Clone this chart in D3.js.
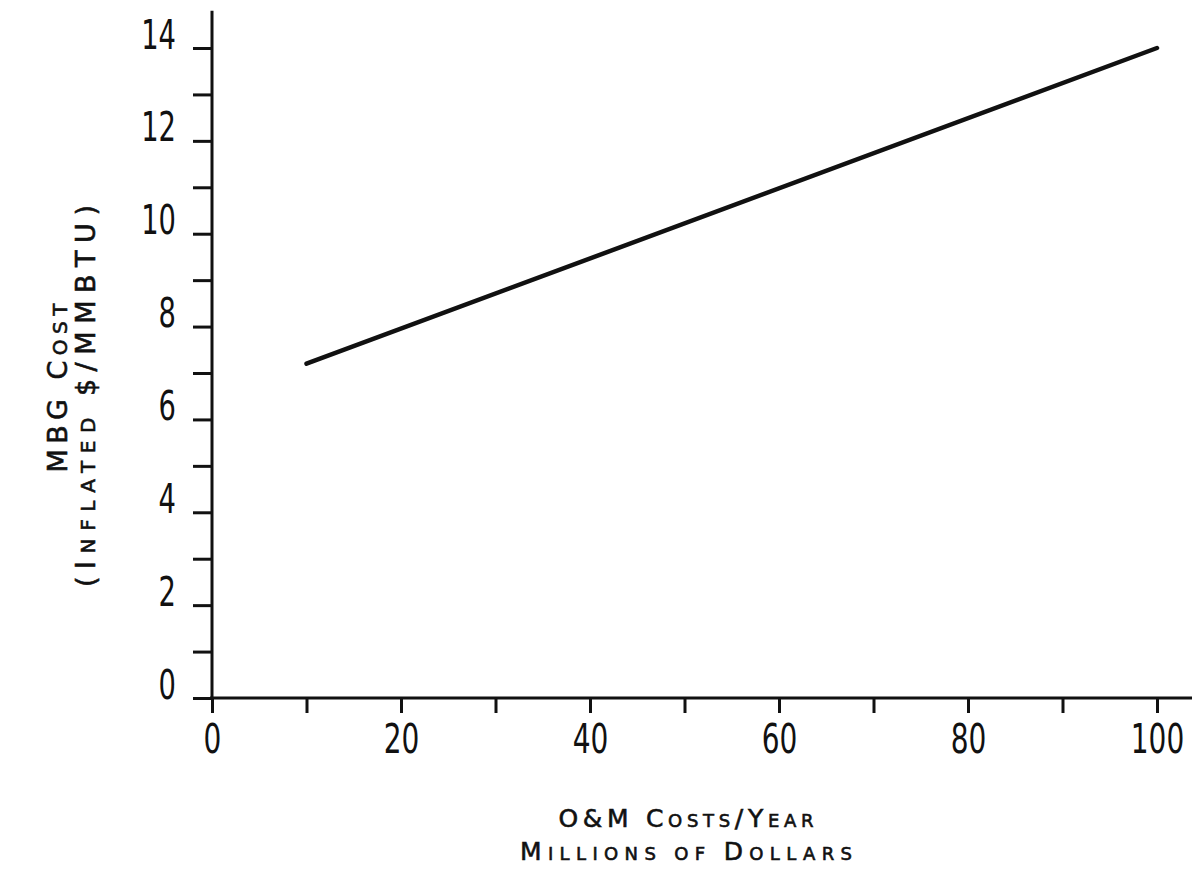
<!DOCTYPE html>
<html>
<head>
<meta charset="utf-8">
<script src="https://cdn.jsdelivr.net/npm/d3@7"></script>
<style>
  body { margin: 0; background: #fff; }
  svg { display: block; }
  .tick text { font-family: "DejaVu Sans Condensed", "Liberation Sans Narrow", sans-serif; fill: #111; }
  .title { font-family: "DejaVu Sans", "Noto Sans", sans-serif; fill: #111; stroke: #111; stroke-width: 0.6; }
</style>
</head>
<body>
<div id="chart"></div>
<script>
// O&M cost vs MBG cost
const omCosts = [10, 100]          // millions of dollars per year
const mbgCosts = [7.2, 14.0]       // inflated $/MMBTU

const xTickValues = [0, 10, 20, 30, 40, 50, 60, 70, 80, 90, 100]
const xLabelValues = [0, 20, 40, 60, 80, 100]
const yTickValues = [0, 1, 2, 3, 4, 5, 6, 7, 8, 9, 10, 11, 12, 13, 14]
const yLabelValues = [0, 2, 4, 6, 8, 10, 12, 14]

const width = 1192
const height = 889
const squeeze = 0.76 // the scan's digits are narrow typewriter digits

const svg = d3.select('#chart').append('svg')
  .attr('width', width)
  .attr('height', height)

const x = d3.scaleLinear().domain([0, 100]).range([212, 1157])
const y = d3.scaleLinear().domain([0, 14]).range([698, 48])

// axis lines (they run past the last tick, like the original)
svg.append('line')
  .attr('x1', x(0)).attr('x2', x(0))
  .attr('y1', y(0) + 1).attr('y2', y(14.8))
  .attr('stroke', '#111').attr('stroke-width', 3)
svg.append('line')
  .attr('x1', x(0) - 2).attr('x2', x(104))
  .attr('y1', y(0)).attr('y2', y(0))
  .attr('stroke', '#111').attr('stroke-width', 3)

const xAxis = svg.append('g')
  .attr('transform', 'translate(0,' + y(0) + ')')
  .call(d3.axisBottom(x)
    .tickValues(xTickValues)
    .tickSize(15)
    .tickPadding(11)
    .tickFormat(d => xLabelValues.includes(d) ? d : ''))
xAxis.select('.domain').remove()
xAxis.selectAll('.tick line').attr('stroke', '#111').attr('stroke-width', 3)
xAxis.selectAll('.tick text')
  .attr('font-size', 41)
  .attr('dy', '0.71em')
  .attr('transform', 'scale(' + squeeze + ',1)')

const yAxis = svg.append('g')
  .attr('transform', 'translate(' + x(0) + ',0)')
  .call(d3.axisLeft(y)
    .tickValues(yTickValues)
    .tickSize(19)
    .tickPadding(17)
    .tickFormat(d => yLabelValues.includes(d) ? d : ''))
yAxis.select('.domain').remove()
yAxis.selectAll('.tick line').attr('stroke', '#111').attr('stroke-width', 3)
yAxis.selectAll('.tick text')
  .attr('font-size', 40)
  .attr('dy', '0')
  .attr('x', 0)
  .attr('transform', 'translate(-36,0) scale(' + squeeze + ',1)')

// the cost line
const line = d3.line()
  .x(d => x(d[0]))
  .y(d => y(d[1]))
svg.append('path')
  .datum(d3.zip(omCosts, mbgCosts))
  .attr('d', line)
  .attr('fill', 'none')
  .attr('stroke', '#111')
  .attr('stroke-width', 4.5)
  .attr('stroke-linecap', 'round')

// small-caps titles: [text, big?] pieces, spaced out to the scan's width
function smallCaps (textSel, parts, big, small, len) {
  parts.forEach(([t, isBig]) => {
    textSel.append('tspan')
      .attr('font-size', isBig ? big : small)
      .text(t)
  })
  textSel.attr('textLength', len).attr('lengthAdjust', 'spacing')
}

const xTitle1 = svg.append('text').attr('class', 'title')
  .attr('x', 686).attr('y', 827).attr('text-anchor', 'middle')
smallCaps(xTitle1, [['O&M C', true], ['OSTS', false], ['/Y', true], ['EAR', false]], 25, 18, 255)

const xTitle2 = svg.append('text').attr('class', 'title')
  .attr('x', 686).attr('y', 860).attr('text-anchor', 'middle')
smallCaps(xTitle2, [['M', true], ['ILLIONS OF ', false], ['D', true], ['OLLARS', false]], 25, 18, 332)

const yTitle1 = svg.append('text').attr('class', 'title')
  .attr('transform', 'translate(67,388) rotate(-90)')
  .attr('text-anchor', 'middle')
smallCaps(yTitle1, [['MBG C', true], ['OST', false]], 27, 20, 169)

const yTitle2 = svg.append('text').attr('class', 'title')
  .attr('transform', 'translate(95,396) rotate(-90)')
  .attr('text-anchor', 'middle')
smallCaps(yTitle2, [['(I', true], ['NFLATED ', false], ['$/MMBTU)', true]], 27, 20, 382)
</script>
</body>
</html>
